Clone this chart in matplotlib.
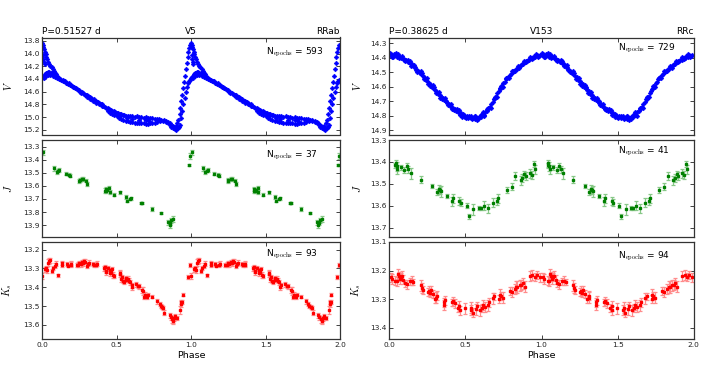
import numpy as np
import matplotlib
matplotlib.use('Agg')
import matplotlib.pyplot as plt

plt.rcParams['mathtext.fontset'] = 'cm'
plt.rcParams['font.family'] = ['DejaVu Sans']

# ---------------- V5 (RRab) ----------------
v5_V_phase = [
    0.000, 0.004, 0.008, 0.012, 0.016, 0.022, 0.028, 0.034, 0.040, 0.047, 0.054, 0.062, 0.070, 0.078, 0.086, 0.094,
    0.003, 0.006, 0.010, 0.015,
    0.000, 0.006, 0.012, 0.018, 0.025, 0.032, 0.040, 0.048, 0.056, 0.064, 0.072, 0.080, 0.090, 0.100, 0.110,
    0.010, 0.025, 0.040, 0.055, 0.070, 0.085, 0.100, 0.115,
    0.120, 0.128, 0.136, 0.144, 0.152, 0.160, 0.168, 0.176, 0.184, 0.192, 0.200, 0.208, 0.216, 0.224, 0.232,
    0.240, 0.248, 0.256, 0.264, 0.272, 0.280, 0.288, 0.296, 0.304, 0.312, 0.320, 0.328, 0.336, 0.344, 0.352,
    0.360, 0.368, 0.376, 0.384, 0.392, 0.400,
    0.140, 0.180, 0.220, 0.260, 0.300, 0.340, 0.380, 0.300, 0.320, 0.360, 0.400, 0.440,
    0.410, 0.420, 0.430, 0.440, 0.450, 0.460, 0.470, 0.480, 0.490, 0.500, 0.510, 0.520, 0.530, 0.540, 0.550,
    0.560, 0.575, 0.590, 0.605, 0.620, 0.635, 0.650, 0.665, 0.680, 0.695, 0.710, 0.725, 0.740, 0.755, 0.770,
    0.785, 0.800, 0.815, 0.830, 0.845, 0.855, 0.865, 0.875, 0.885, 0.895, 0.905,
    0.440, 0.455, 0.470, 0.485, 0.500, 0.515, 0.530, 0.545, 0.560, 0.575, 0.590, 0.605, 0.620, 0.635, 0.650,
    0.665, 0.680, 0.695, 0.710, 0.725, 0.740, 0.755, 0.770, 0.790, 0.810, 0.830, 0.850, 0.865, 0.878, 0.890,
    0.900, 0.910, 0.918,
    0.600, 0.650, 0.700, 0.720, 0.520, 0.570,
    0.915, 0.922, 0.928, 0.934, 0.940, 0.946, 0.952, 0.958, 0.964, 0.970, 0.976, 0.982, 0.988, 0.994,
    0.925, 0.932, 0.940, 0.948, 0.956, 0.964, 0.972, 0.980, 0.988, 0.995,
]
v5_V_mag = [
    13.84, 13.86, 13.89, 13.93, 13.97, 14.01, 14.05, 14.09, 14.13, 14.16, 14.19, 14.22, 14.25, 14.28, 14.30, 14.33,
    14.02, 14.08, 14.13, 14.17,
    14.39, 14.37, 14.35, 14.33, 14.31, 14.30, 14.29, 14.29, 14.30, 14.31, 14.32, 14.33, 14.35, 14.36, 14.38,
    14.39, 14.36, 14.34, 14.34, 14.35, 14.37, 14.39, 14.40,
    14.40, 14.41, 14.42, 14.44, 14.44, 14.46, 14.47, 14.48, 14.49, 14.50, 14.51, 14.52, 14.53, 14.55, 14.56,
    14.57, 14.58, 14.60, 14.61, 14.62, 14.63, 14.65, 14.66, 14.67, 14.68, 14.69, 14.70, 14.71, 14.72, 14.74,
    14.75, 14.76, 14.77, 14.78, 14.79, 14.80,
    14.43, 14.47, 14.54, 14.62, 14.68, 14.74, 14.79, 14.65, 14.72, 14.78, 14.83, 14.88,
    14.82, 14.84, 14.85, 14.86, 14.87, 14.89, 14.90, 14.91, 14.92, 14.93, 14.94, 14.95, 14.96, 14.97, 14.97,
    14.98, 14.98, 14.99, 14.99, 15.00, 14.99, 15.00, 15.00, 15.01, 15.00, 15.01, 15.02, 15.02, 15.03, 15.03,
    15.03, 15.04, 15.05, 15.06, 15.08, 15.10, 15.12, 15.14, 15.15, 15.14, 15.10,
    14.90, 14.93, 14.95, 14.97, 14.99, 15.01, 15.03, 15.05, 15.06, 15.07, 15.08, 15.08, 15.09, 15.09, 15.10,
    15.10, 15.10, 15.11, 15.11, 15.10, 15.10, 15.09, 15.08, 15.07, 15.07, 15.08, 15.11, 15.15, 15.18, 15.19,
    15.20, 15.18, 15.15,
    15.03, 15.05, 15.04, 15.06, 14.98, 15.02,
    15.05, 14.95, 14.85, 14.75, 14.65, 14.55, 14.45, 14.35, 14.25, 14.15, 14.06, 13.98, 13.91, 13.86,
    15.12, 15.02, 14.90, 14.80, 14.70, 14.60, 14.52, 14.47, 14.43, 14.41,
]

v5_J_phase = [0.003, 0.995, 0.984, 0.078, 0.096, 0.112, 0.156, 0.181, 0.186, 0.246, 0.268, 0.292, 0.301,
              0.420, 0.428, 0.446, 0.452, 0.435, 0.480, 0.525, 0.560, 0.569, 0.592, 0.598, 0.665, 0.670,
              0.737, 0.800, 0.844, 0.855, 0.866, 0.877, 0.860, 0.272, 0.250, 0.105, 0.425]
v5_J_mag = [13.345, 13.372, 13.440, 13.466, 13.494, 13.479, 13.506, 13.516, 13.522, 13.560, 13.550, 13.560, 13.587,
            13.637, 13.640, 13.618, 13.645, 13.630, 13.668, 13.650, 13.683, 13.713, 13.700, 13.695, 13.730, 13.728,
            13.777, 13.810, 13.877, 13.895, 13.864, 13.852, 13.880, 13.548, 13.555, 13.485, 13.625]
v5_J_err = [0.020, 0.020, 0.008, 0.018, 0.015, 0.015, 0.012, 0.012, 0.010, 0.015, 0.015, 0.012, 0.015,
            0.020, 0.015, 0.015, 0.015, 0.012, 0.010, 0.010, 0.015, 0.012, 0.010, 0.010, 0.008, 0.008,
            0.015, 0.008, 0.020, 0.025, 0.020, 0.020, 0.015, 0.012, 0.012, 0.012, 0.015]

v5_K_phase = [0.000, 0.018, 0.025, 0.030, 0.040, 0.047, 0.052, 0.063, 0.070, 0.085, 0.090, 0.107, 0.130, 0.135,
              0.163, 0.170, 0.190, 0.195, 0.230, 0.241, 0.248, 0.257, 0.265, 0.275, 0.280, 0.286, 0.300, 0.308,
              0.315, 0.342, 0.350, 0.360, 0.365, 0.415, 0.420, 0.428, 0.431, 0.444, 0.453, 0.458, 0.464, 0.470,
              0.475, 0.482, 0.520, 0.525, 0.531, 0.536, 0.542, 0.548, 0.560, 0.565, 0.576, 0.585, 0.592, 0.600,
              0.605, 0.632, 0.643, 0.650, 0.668, 0.676, 0.683, 0.690, 0.706, 0.712, 0.735, 0.770, 0.788, 0.795,
              0.803, 0.810, 0.818, 0.855, 0.862, 0.870, 0.876, 0.881, 0.885, 0.892, 0.904, 0.926, 0.930, 0.933,
              0.937, 0.942, 0.982, 0.993]
v5_K_mag = [13.340, 13.305, 13.300, 13.310, 13.270, 13.262, 13.258, 13.315, 13.300, 13.285, 13.275, 13.337, 13.272, 13.280,
            13.278, 13.285, 13.280, 13.275, 13.282, 13.280, 13.272, 13.276, 13.268, 13.270, 13.262, 13.264, 13.285, 13.278,
            13.270, 13.276, 13.282, 13.280, 13.275, 13.300, 13.295, 13.312, 13.320, 13.300, 13.310, 13.325, 13.318, 13.305,
            13.335, 13.340, 13.322, 13.330, 13.356, 13.345, 13.365, 13.370, 13.360, 13.350, 13.355, 13.365, 13.375, 13.400,
            13.390, 13.385, 13.392, 13.395, 13.415, 13.420, 13.450, 13.440, 13.450, 13.440, 13.450, 13.475, 13.490, 13.500,
            13.505, 13.510, 13.535, 13.550, 13.560, 13.570, 13.580, 13.575, 13.565, 13.555, 13.565, 13.520, 13.490, 13.478,
            13.480, 13.440, 13.345, 13.282]
v5_K_err = [0.015, 0.012, 0.012, 0.015, 0.018, 0.015, 0.012, 0.012, 0.010, 0.015, 0.012, 0.008, 0.012, 0.012,
            0.012, 0.010, 0.015, 0.012, 0.012, 0.015, 0.012, 0.015, 0.012, 0.015, 0.012, 0.012, 0.015, 0.012,
            0.012, 0.012, 0.010, 0.012, 0.012, 0.015, 0.015, 0.012, 0.015, 0.012, 0.012, 0.015, 0.012, 0.012,
            0.015, 0.012, 0.012, 0.015, 0.018, 0.012, 0.015, 0.015, 0.012, 0.012, 0.015, 0.012, 0.012, 0.015,
            0.012, 0.012, 0.010, 0.012, 0.015, 0.020, 0.012, 0.012, 0.010, 0.008, 0.008, 0.015, 0.012, 0.012,
            0.012, 0.010, 0.012, 0.015, 0.015, 0.018, 0.018, 0.015, 0.012, 0.012, 0.010, 0.020, 0.015, 0.012,
            0.010, 0.008, 0.012, 0.010]

# ---------------- V153 (RRc) ----------------
v153_V_phase = [
    0.00, 0.01, 0.02, 0.03, 0.04, 0.05, 0.06, 0.07, 0.08, 0.09, 0.10, 0.11, 0.12, 0.13, 0.14, 0.15, 0.16, 0.17, 0.18, 0.19,
    0.20, 0.21, 0.22, 0.23, 0.24, 0.25, 0.26, 0.27, 0.28, 0.29, 0.30, 0.31, 0.32, 0.33, 0.34, 0.35, 0.36, 0.37, 0.38, 0.39,
    0.40, 0.41, 0.42, 0.43, 0.44, 0.45, 0.46, 0.47, 0.48, 0.49, 0.50, 0.51, 0.52, 0.53, 0.54, 0.55, 0.56, 0.57, 0.58, 0.59,
    0.60, 0.61, 0.62, 0.63, 0.64, 0.65, 0.66, 0.67, 0.68, 0.69, 0.70, 0.71, 0.72, 0.73, 0.74, 0.75, 0.76, 0.77, 0.78, 0.79,
    0.80, 0.81, 0.82, 0.83, 0.84, 0.85, 0.86, 0.87, 0.88, 0.89, 0.90, 0.91, 0.92, 0.93, 0.94, 0.95, 0.96, 0.97, 0.98, 0.99,
    0.005, 0.025, 0.045, 0.065, 0.085, 0.105, 0.125, 0.145, 0.165, 0.185, 0.205, 0.225, 0.245, 0.265, 0.285, 0.305, 0.325,
    0.345, 0.365, 0.385, 0.405, 0.425, 0.445, 0.465, 0.485, 0.505, 0.525, 0.545, 0.565, 0.585, 0.605, 0.625, 0.645, 0.665,
    0.685, 0.705, 0.725, 0.745, 0.765, 0.785, 0.805, 0.825, 0.845, 0.865, 0.885, 0.905, 0.925, 0.945, 0.965, 0.985,
    0.015, 0.055, 0.095, 0.135, 0.175, 0.215, 0.255, 0.295, 0.335, 0.375, 0.415, 0.455, 0.495, 0.535, 0.575, 0.615,
    0.655, 0.695, 0.735, 0.775, 0.815, 0.855, 0.895, 0.935, 0.975, 0.560, 0.600, 0.480,
]
v153_V_mag = [
    14.380, 14.372, 14.388, 14.376, 14.384, 14.392, 14.390, 14.398, 14.402, 14.401, 14.415, 14.416, 14.428, 14.430, 14.444,
    14.446, 14.462, 14.466, 14.482, 14.488, 14.503, 14.510, 14.528, 14.534, 14.552, 14.558, 14.576, 14.582, 14.600, 14.606,
    14.624, 14.630, 14.648, 14.654, 14.672, 14.678, 14.694, 14.698, 14.714, 14.718, 14.734, 14.738, 14.752, 14.754, 14.768,
    14.770, 14.784, 14.784, 14.796, 14.796, 14.806, 14.804, 14.814, 14.810, 14.819, 14.814, 14.820, 14.814, 14.818, 14.808,
    14.808, 14.795, 14.792, 14.776, 14.770, 14.750, 14.741, 14.718, 14.706, 14.682, 14.669, 14.644, 14.632, 14.608, 14.597,
    14.574, 14.564, 14.543, 14.536, 14.518, 14.513, 14.497, 14.494, 14.479, 14.476, 14.461, 14.459, 14.445, 14.443, 14.429,
    14.428, 14.415, 14.414, 14.402, 14.402, 14.391, 14.393, 14.383, 14.386, 14.378,
    14.368, 14.395, 14.370, 14.405, 14.390, 14.425, 14.415, 14.455, 14.450, 14.498, 14.492, 14.545, 14.540, 14.592, 14.588,
    14.640, 14.635, 14.688, 14.680, 14.726, 14.722, 14.762, 14.755, 14.792, 14.785, 14.815, 14.800, 14.826, 14.805, 14.822,
    14.792, 14.800, 14.755, 14.745, 14.688, 14.672, 14.615, 14.600, 14.545, 14.538, 14.492, 14.488, 14.455, 14.448, 14.420,
    14.422, 14.395, 14.400, 14.372, 14.390,
    14.392, 14.375, 14.412, 14.420, 14.484, 14.505, 14.580, 14.600, 14.680, 14.700, 14.755, 14.758, 14.812, 14.800, 14.830,
    14.775, 14.750, 14.668, 14.598, 14.540, 14.488, 14.470, 14.420, 14.410, 14.395, 14.805, 14.792, 14.808,
]

v153_J_phase = [0.044, 0.048, 0.053, 0.074, 0.099, 0.114, 0.125, 0.142, 0.208, 0.283, 0.315, 0.328, 0.339, 0.377,
                0.410, 0.420, 0.460, 0.469, 0.508, 0.523, 0.552, 0.591, 0.600, 0.624, 0.650, 0.679, 0.705, 0.716,
                0.775, 0.804, 0.828, 0.863, 0.874, 0.887, 0.898, 0.924, 0.935, 0.950, 0.957, 0.040, 0.330]
v153_J_mag = [13.406, 13.420, 13.434, 13.425, 13.437, 13.420, 13.434, 13.452, 13.480, 13.510, 13.536, 13.525, 13.533,
              13.555, 13.580, 13.566, 13.580, 13.586, 13.600, 13.647, 13.616, 13.609, 13.612, 13.600, 13.612, 13.586,
              13.580, 13.566, 13.528, 13.513, 13.464, 13.483, 13.475, 13.457, 13.464, 13.452, 13.460, 13.410, 13.434,
              13.415, 13.530]
v153_J_err = [0.015, 0.020, 0.020, 0.010, 0.012, 0.015, 0.015, 0.025, 0.018, 0.010, 0.015, 0.020, 0.025, 0.010,
              0.020, 0.020, 0.018, 0.015, 0.012, 0.012, 0.025, 0.008, 0.008, 0.020, 0.020, 0.020, 0.015, 0.020,
              0.015, 0.015, 0.020, 0.020, 0.018, 0.015, 0.018, 0.020, 0.018, 0.015, 0.020, 0.012, 0.015]

v153_K_phase = [0.009, 0.015, 0.040, 0.048, 0.059, 0.065, 0.070, 0.078, 0.083, 0.092, 0.105, 0.114, 0.136, 0.149,
                0.158, 0.206, 0.215, 0.219, 0.252, 0.259, 0.267, 0.275, 0.285, 0.300, 0.309, 0.315, 0.359, 0.361,
                0.365, 0.410, 0.420, 0.431, 0.453, 0.460, 0.464, 0.497, 0.534, 0.540, 0.547, 0.569, 0.575, 0.596,
                0.607, 0.615, 0.629, 0.650, 0.657, 0.683, 0.690, 0.723, 0.728, 0.732, 0.745, 0.795, 0.804, 0.826,
                0.835, 0.841, 0.859, 0.868, 0.876, 0.891, 0.922, 0.940, 0.957, 0.972, 0.990]
v153_K_mag = [13.224, 13.230, 13.235, 13.238, 13.212, 13.220, 13.228, 13.222, 13.218, 13.232, 13.245, 13.248, 13.238,
              13.235, 13.240, 13.252, 13.262, 13.268, 13.275, 13.272, 13.278, 13.270, 13.283, 13.300, 13.295, 13.288,
              13.312, 13.322, 13.305, 13.312, 13.308, 13.315, 13.332, 13.325, 13.340, 13.333, 13.338, 13.330, 13.348,
              13.336, 13.325, 13.340, 13.332, 13.320, 13.328, 13.322, 13.312, 13.298, 13.290, 13.300, 13.285, 13.290,
              13.295, 13.272, 13.276, 13.265, 13.258, 13.258, 13.252, 13.250, 13.245, 13.256, 13.218, 13.215, 13.222,
              13.215, 13.224]
v153_K_err = [0.015, 0.018, 0.015, 0.015, 0.018, 0.015, 0.018, 0.015, 0.015, 0.015, 0.012, 0.015, 0.012, 0.015,
              0.012, 0.018, 0.018, 0.015, 0.015, 0.018, 0.015, 0.015, 0.015, 0.015, 0.018, 0.015, 0.015, 0.018,
              0.015, 0.012, 0.015, 0.015, 0.015, 0.018, 0.015, 0.018, 0.018, 0.020, 0.015, 0.020, 0.015, 0.018,
              0.015, 0.018, 0.018, 0.020, 0.015, 0.018, 0.012, 0.015, 0.020, 0.015, 0.018, 0.015, 0.018, 0.018,
              0.020, 0.022, 0.020, 0.018, 0.018, 0.020, 0.018, 0.018, 0.015, 0.015, 0.015]

# labels
titles_left = ["P=0.51527 d", "P=0.38625 d"]
titles_center = ["V5", "V153"]
titles_right = ["RRab", "RRc"]
n_epochs = [[593, 37, 93], [729, 41, 94]]
band_labels = ["$V$", "$J$", "$K_s$"]

# ---------------- layout ----------------
fig = plt.figure(figsize=(7.08, 3.78), dpi=100)
col_x = [42.3 / 708, 389.3 / 708]
col_w = [(340.0 - 42.3) / 708, (693.7 - 389.3) / 708]
row_top_px = [37.5, 140.0, 242.0]
row_h_px = 97.0

ylims = [[(15.275, 13.748), (13.99, 13.25), (13.675, 13.16)],
         [(14.93, 14.26), (13.742, 13.30), (13.44, 13.10)]]
yticks = [[np.arange(13.8, 15.21, 0.2), np.arange(13.3, 13.91, 0.1), np.arange(13.2, 13.61, 0.1)],
          [np.arange(14.3, 14.91, 0.1), np.arange(13.3, 13.71, 0.1), np.arange(13.1, 13.41, 0.1)]]
n_pos = [[(0.75, 0.845), (0.75, 0.84), (0.75, 0.875)],
         [(0.752, 0.89), (0.752, 0.88), (0.752, 0.85)]]
ylab_x = [-0.095, -0.088]

data = [
    [(v5_V_phase, v5_V_mag, None), (v5_J_phase, v5_J_mag, v5_J_err), (v5_K_phase, v5_K_mag, v5_K_err)],
    [(v153_V_phase, v153_V_mag, None), (v153_J_phase, v153_J_mag, v153_J_err), (v153_K_phase, v153_K_mag, v153_K_err)],
]
colors = ['#0000ff', '#008000', '#ff0000']
ecolors = [None, '#88c888', '#ff8c8c']

tick_fs = 5.3
for c in range(2):
    for r in range(3):
        bottom = 1 - (row_top_px[r] + row_h_px) / 378
        ax = fig.add_axes([col_x[c], bottom, col_w[c], row_h_px / 378])
        ph, mg, er = data[c][r]
        ph = np.asarray(ph); mg = np.asarray(mg)
        xx = np.concatenate([ph, ph + 1.0])
        yy = np.concatenate([mg, mg])
        if er is None:
            ax.plot(xx, yy, linestyle='none', marker='D', ms=2.4, color=colors[r], mew=0.4, mec=colors[r])
        else:
            ee = np.concatenate([er, er])
            ax.errorbar(xx, yy, yerr=ee, fmt='s', ms=1.9, color=colors[r], mec=colors[r],
                        ecolor=ecolors[r], elinewidth=0.9, capsize=1.5, capthick=0.9)
        ax.set_xlim(0, 2)
        ax.set_ylim(*ylims[c][r])
        ax.set_yticks(yticks[c][r])
        ax.set_yticklabels(["%.1f" % t for t in yticks[c][r]])
        ax.set_xticks([0, 0.5, 1.0, 1.5, 2.0])
        ax.tick_params(direction='in', length=3, width=0.6, top=True, right=True,
                       labelsize=tick_fs, colors='#222222', pad=2)
        for sp in ax.spines.values():
            sp.set_color('#333333')
            sp.set_linewidth(0.9)
        if r < 2:
            ax.set_xticklabels([])
        else:
            ax.set_xticklabels(["0.0", "0.5", "1.0", "1.5", "2.0"])
            ax.set_xlabel("Phase", fontsize=6.8, labelpad=2)
        ax.set_ylabel(band_labels[r], fontsize=7.5)
        ax.yaxis.set_label_coords(ylab_x[c], 0.5)
        ax.text(n_pos[c][r][0], n_pos[c][r][1],
                r"N$_{\rm epochs}$ = %d" % n_epochs[c][r],
                transform=ax.transAxes, fontsize=6.5, ha='left', va='center')
        if r == 0:
            ax.set_title(titles_left[c], loc='left', fontsize=6.5, pad=2.5)
            ax.set_title(titles_center[c], loc='center', fontsize=6.5, pad=2.5)
            ax.set_title(titles_right[c], loc='right', fontsize=6.5, pad=2.5)

fig.savefig("out.png", dpi=100)
